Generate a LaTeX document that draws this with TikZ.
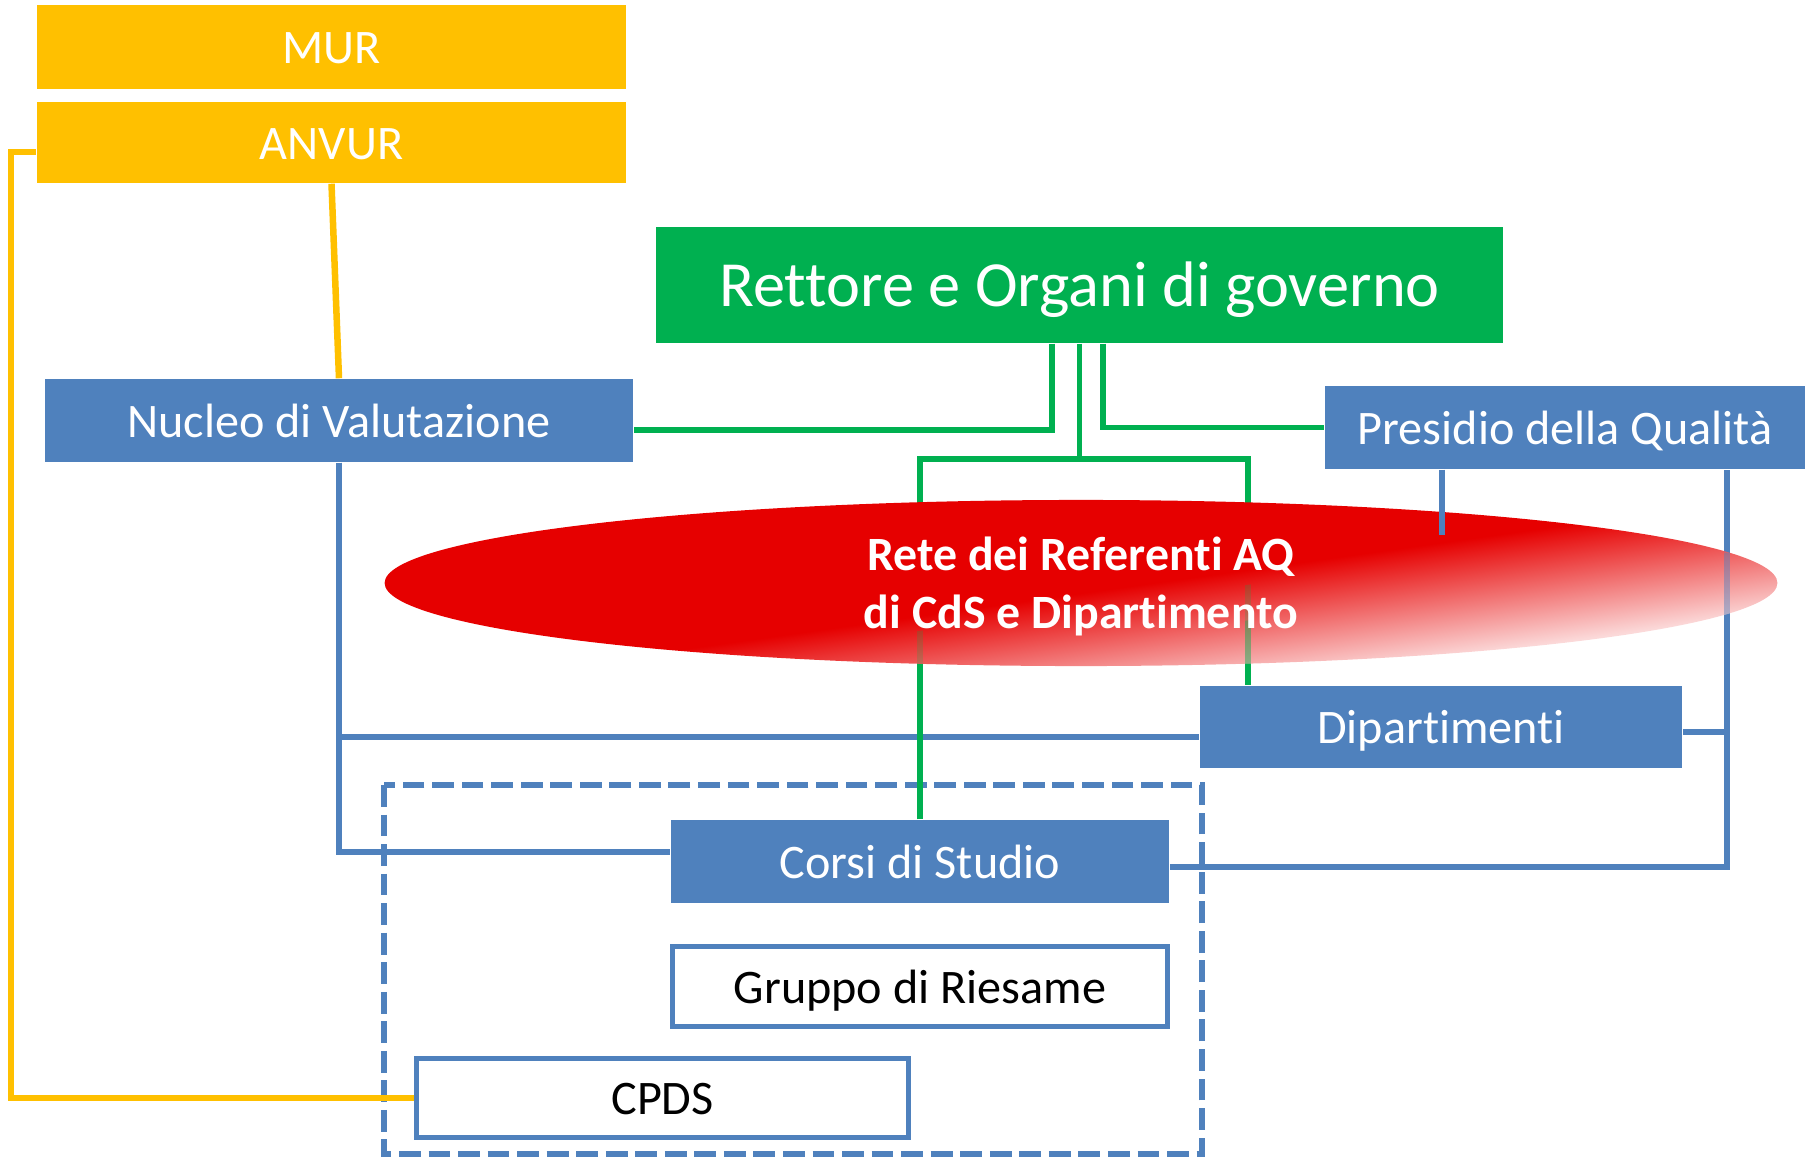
\documentclass[tikz,border=0pt]{standalone}
\usepackage{fontspec}
\setmainfont{Carlito}[Ligatures=CommonOff]
\usepackage{tikz}
\usepackage{xcolor}
\definecolor{aqyellow}{HTML}{FFC000}
\definecolor{aqgreen}{HTML}{00B050}
\definecolor{aqblue}{HTML}{4F81BD}
\definecolor{aqred}{HTML}{E60000}
\colorlet{aqpale}{aqred!15!white}
\pgfdeclareverticalshading{reteshade}{20cm}{color(0cm)=(aqpale); color(2.75cm)=(aqpale); color(3.9cm)=(aqred); color(8cm)=(aqred)}
\tikzset{%
  solidbox/.style={inner sep=0pt, text=white, font=\fontsize{13.7}{16}\selectfont, text height=12.4pt, text depth=3pt},
  openbox/.style={draw=aqblue, line width=1.4pt, fill=white, inner sep=0pt, font=\fontsize{13.7}{16}\selectfont, text height=12.4pt, text depth=3pt},
  ylw/.style={color=aqyellow, line width=1.85pt},
  grn/.style={color=aqgreen, line width=1.7pt},
  blu/.style={color=aqblue, line width=1.85pt}
}

\begin{document}
\begin{tikzpicture}[x=0.01cm,y=-0.01cm]
\useasboundingbox (0,0) rectangle (1814,1157);

\node[solidbox, fill=aqyellow, minimum width=5.89cm, minimum height=0.83cm] (mur) at (331.5,47) {MUR};
\node[solidbox, fill=aqyellow, minimum width=5.89cm, minimum height=0.81cm] (anvur) at (331.5,142.5) {ANVUR};
\node[solidbox, fill=aqgreen, minimum width=8.47cm, minimum height=1.16cm, font=\fontsize{18.3}{22}\selectfont, text height=16pt, text depth=3.6pt] (rettore) at (1079.5,285) {Rettore e Organi di governo};
\node[solidbox, fill=aqblue, minimum width=5.88cm, minimum height=0.83cm] (nucleo) at (339,420.5) {Nucleo di Valutazione};
\node[solidbox, fill=aqblue, minimum width=4.80cm, minimum height=0.83cm] (presidio) at (1565,427.5) {Presidio della Qualità};
\node[solidbox, fill=aqblue, minimum width=4.82cm, minimum height=0.82cm] (dip) at (1441,727) {Dipartimenti};
\node[solidbox, fill=aqblue, minimum width=4.98cm, minimum height=0.83cm] (corsi) at (920,861.5) {Corsi di Studio};
\node[openbox, minimum width=4.95cm, minimum height=0.80cm] (gruppo) at (920,986.5) {Gruppo di Riesame};
\node[openbox, minimum width=4.92cm, minimum height=0.79cm] (cpds) at (662.5,1098) {CPDS};
\draw[aqblue, line width=1.8pt, dash pattern=on 6.2pt off 2.2pt] (384,785) rectangle (1202,1154);

\draw[ylw] (anvur.south) -- (nucleo.north);
\draw[ylw] ([yshift=-0.095cm]anvur.west) -- ++(-25,0) |- (cpds.west);

\coordinate (pqfoot) at ([xshift=1.62cm]presidio.south);
\draw[blu] (nucleo.south) |- ([yshift=0.095cm]corsi.west);
\draw[blu] (nucleo.south) |- ([yshift=-0.1cm]dip.west);
\draw[blu] ([yshift=-0.055cm]corsi.east) -| (pqfoot);
\draw[blu] ([yshift=-0.05cm]dip.east) -| (pqfoot);

\coordinate (gjoin) at ([yshift=-1.15cm]rettore.south);
\coordinate (dipnorth) at ([xshift=0.49cm]dip.north west);
\draw[grn] (rettore.south) -- (gjoin);
\draw[grn] (corsi.north) |- (gjoin) -| (dipnorth);
\draw[grn] ([xshift=-0.275cm]rettore.south) |- ([yshift=-0.095cm]nucleo.east);
\draw[grn] ([xshift=0.235cm]rettore.south) |- (presidio.west);

\begin{scope}
  \clip (1081,583) ellipse [x radius=6.96cm, y radius=0.83cm];
  \node[rotate=8, inner sep=0pt] (retefill) at (1081,583) {\pgfuseshading{reteshade}};
  \begin{scope}
    \clip (381,706.5) -- (1781,510) -- (1781,545.4) -- (381,742) -- cycle;
    \draw[grn, opacity=0.2] (corsi.north) |- (gjoin) -| (dipnorth);
    \draw[blu, opacity=0.2] ([yshift=-0.055cm]corsi.east) -| (pqfoot);
  \end{scope}
  \begin{scope}
    \clip (381,742) -- (1781,545.4) -- (1781,800) -- (381,800) -- cycle;
    \draw[grn, opacity=0.45] (corsi.north) |- (gjoin) -| (dipnorth);
    \draw[blu, opacity=0.45] ([yshift=-0.055cm]corsi.east) -| (pqfoot);
  \end{scope}
\end{scope}
\coordinate (pqtick) at ([xshift=-1.23cm, yshift=-0.65cm]presidio.south);
\draw[blu] (presidio.south -| pqtick) -- (pqtick);
\node[text=white, font=\bfseries\fontsize{13.6}{16.5}\selectfont, align=center] (rete) at (1081,586) {Rete dei Referenti AQ\\di CdS e Dipartimento};
\end{tikzpicture}
\end{document}
